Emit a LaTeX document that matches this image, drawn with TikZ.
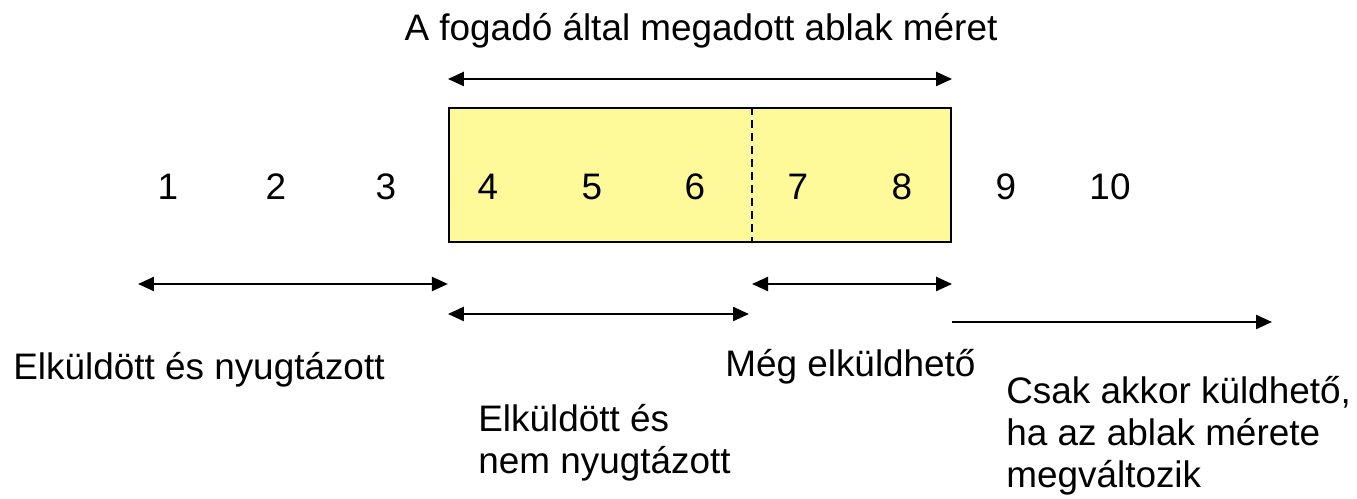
\documentclass[tikz,border=0pt]{standalone}
\usepackage{fontspec}
\setmainfont{Liberation Sans}
\usepackage{tikz}
\usetikzlibrary{arrows.meta}
\colorlet{window}{yellow!40}
\tikzset{
  % node options
  txt/.style={font=\fontsize{21}{24.1}\selectfont,inner sep=0pt},
  seqno/.style={txt},
  note/.style={txt,anchor=base west,align=left},
  wnd/.style={rectangle,draw,fill=window,line width=1.3pt,
    minimum width=10.04cm,minimum height=2.68cm},
  % path options
  span/.style={{Triangle[length=0.32cm,width=0.28cm]}-{Triangle[length=0.32cm,width=0.28cm]},line width=1.3pt},
  span right/.style={-{Triangle[length=0.32cm,width=0.28cm]},line width=1.3pt},
  divider/.style={dashed,dash pattern=on 0.16cm off 0.1cm,line width=1.1pt},
}
\begin{document}
\begin{tikzpicture}[x=0.02cm,y=-0.02cm]
  \useasboundingbox (0,0) rectangle (1357,499);
  \node[wnd] (wnd) at (700,175) {};
  \coordinate (split) at (752,0);
  \draw[divider] (wnd.north -| split) -- (wnd.south -| split);
  \foreach \n/\x in {1/168,2/276,3/386,4/488,5/592,6/695,7/798,8/902,9/1006,10/1110}
    \node[seqno] (n\n) at (\x,187) {\n};
  \node[txt,anchor=base] (title) at (701,41) {A fogadó által megadott ablak méret};
  \coordinate (top) at (0,79);
  \coordinate (r1) at (138,284);
  \coordinate (r2) at (0,314);
  \coordinate (r3) at (1272,322);
  \draw[span] (wnd.west |- top) -- (wnd.east |- top);
  \draw[span] (r1) -- (wnd.west |- r1);
  \draw[span] (split |- r1) -- (wnd.east |- r1);
  \draw[span] (wnd.west |- r2) -- ([xshift=-0.06cm]split |- r2);
  \draw[span right] (wnd.east |- r3) -- (r3);
  % multi-line notes sit on the baseline of their last line
  \node[note] (acked) at (13,380) {Elküldött és nyugtázott};
  \node[note] (usable) at (725,377) {Még elküldhető};
  \node[note] (unacked) at (478,474) {Elküldött és\\nem nyugtázott};
  \node[note] (blocked) at (1006,488) {Csak akkor küldhető,\\ha az ablak mérete\\megváltozik};
\end{tikzpicture}
\end{document}
